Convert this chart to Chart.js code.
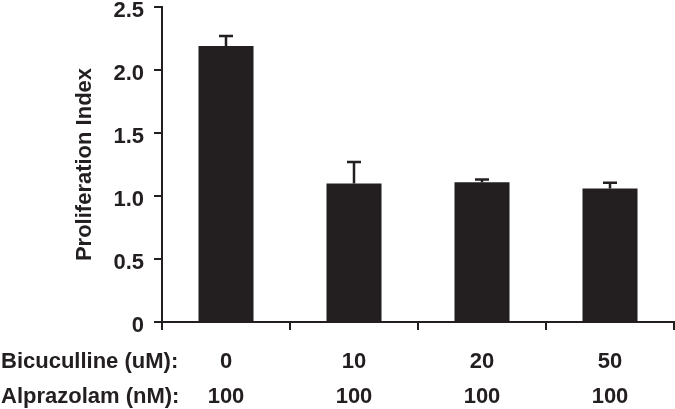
<!DOCTYPE html>
<html>
<head>
<meta charset="utf-8">
<script src="https://cdn.jsdelivr.net/npm/chart.js@4/dist/chart.umd.min.js"></script>
<style>
  body { margin: 0; background: #fff; }
  canvas { display: block; }
</style>
</head>
<body>
<canvas id="prolifChart" width="675" height="409"></canvas>
<script>
const bicuculline = ["0", "10", "20", "50"];
const alprazolam = ["100", "100", "100", "100"];
const rowTitles = ["Bicuculline (uM):", "Alprazolam (nM):"];
const prolifIndex = [2.19, 1.10, 1.11, 1.06];
const prolifErr = [0.08, 0.17, 0.02, 0.045];
const yTicks = [0, 0.5, 1.0, 1.5, 2.0, 2.5];

const ink = "#231f20";
const font = { family: "'Liberation Sans', Arial, sans-serif", size: 22, weight: "bold" };

const errorBars = {
    id: "errorBars",
    afterDatasetsDraw(chart) {
        const ctx = chart.ctx;
        const y = chart.scales.y;
        const meta = chart.getDatasetMeta(0);
        ctx.save();
        ctx.strokeStyle = ink;
        ctx.lineWidth = 2.5;
        meta.data.forEach((bar, i) => {
            const top = y.getPixelForValue(prolifIndex[i] + prolifErr[i]);
            ctx.beginPath();
            ctx.moveTo(bar.x, bar.y);
            ctx.lineTo(bar.x, top);
            ctx.moveTo(bar.x - 7, top);
            ctx.lineTo(bar.x + 7, top);
            ctx.stroke();
        });
        ctx.restore();
    }
};

const rowLabels = {
    id: "rowLabels",
    afterDraw(chart) {
        const ctx = chart.ctx;
        const x = chart.scales.x;
        ctx.save();
        ctx.fillStyle = ink;
        ctx.font = `${font.weight} ${font.size}px ${font.family}`;
        ctx.textAlign = "left";
        ctx.textBaseline = "middle";
        rowTitles.forEach((t, i) => {
            ctx.fillText(t, 1, x.top + 22 + 17.5 + i * 35);
        });
        ctx.restore();
    }
};

new Chart(document.getElementById("prolifChart").getContext("2d"), {
    type: "bar",
    data: {
        labels: bicuculline.map((b, i) => [b, alprazolam[i]]),
        datasets: [{
            data: prolifIndex,
            backgroundColor: ink,
            borderWidth: 0,
            categoryPercentage: 1,
            barPercentage: 0.43
        }]
    },
    plugins: [errorBars, rowLabels],
    options: {
        responsive: false,
        animation: false,
        layout: { padding: { top: 7, right: 1, bottom: 0, left: 0 } },
        plugins: {
            legend: { display: false },
            tooltip: { enabled: false }
        },
        scales: {
            x: {
                grid: { drawOnChartArea: false, drawTicks: true, tickLength: 8, color: ink, lineWidth: 2 },
                border: { display: true, color: ink, width: 2 },
                ticks: { color: ink, font: { ...font, lineHeight: 35 / 22 }, padding: 14, maxRotation: 0 },
                afterFit(scale) { scale.height = 87; }
            },
            y: {
                min: 0,
                max: 2.5,
                afterBuildTicks(scale) { scale.ticks = yTicks.map(v => ({ value: v })); },
                grid: { drawOnChartArea: false, drawTicks: true, tickLength: 8, color: ink, lineWidth: 2 },
                border: { display: true, color: ink, width: 2 },
                ticks: {
                    color: ink,
                    font: font,
                    padding: 10,
                    labelOffset: 4,
                    callback: v => v === 0 ? "0" : v.toFixed(1)
                },
                title: {
                    display: true,
                    text: "Proliferation Index",
                    color: ink,
                    font: font,
                    padding: { top: 72, bottom: 0 }
                },
                afterFit(scale) {
                    scale.width = 162;
                    scale.paddingTop = 0;
                }
            }
        }
    }
});
</script>
</body>
</html>
